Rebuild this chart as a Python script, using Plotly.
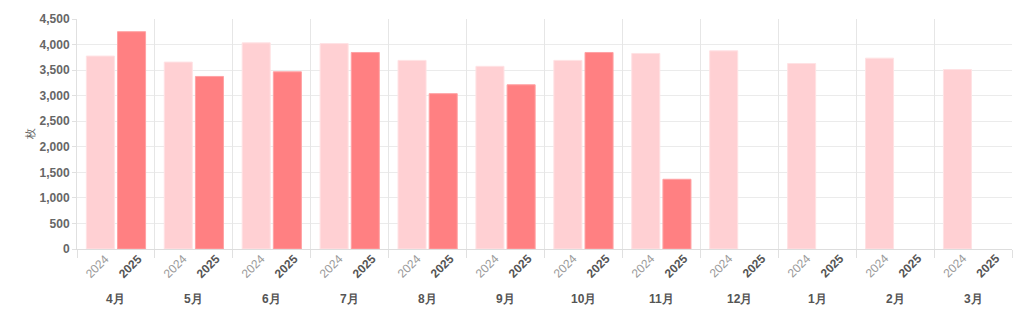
import plotly.graph_objects as go

months = ["4月", "5月", "6月", "7月", "8月", "9月", "10月", "11月", "12月", "1月", "2月", "3月"]
years = ["2024", "2025"]
values_2024 = [3775, 3657, 4033, 4019, 3690, 3574, 3690, 3826, 3877, 3629, 3734, 3512]
values_2025 = [4252, 3376, 3467, 3845, 3039, 3213, 3845, 1364]
y_ticks = [0, 500, 1000, 1500, 2000, 2500, 3000, 3500, 4000, 4500]
y_title = "枚"

FONT = "Liberation Sans, Arial, sans-serif"
n = len(months)

fig = go.Figure()
fig.add_trace(go.Bar(
    x=months, y=values_2024, name=years[0], offsetgroup="a",
    marker=dict(color="#FFD0D3", line=dict(color="#FFE2E4", width=1)),
))
fig.add_trace(go.Bar(
    x=months[:len(values_2025)], y=values_2025, name=years[1], offsetgroup="b",
    marker=dict(color="#FF8082", line=dict(color="#FFA2A4", width=1)),
))
# helper (invisible) so the month-boundary grid axis is drawn
fig.add_trace(go.Scatter(x=[-0.5, n - 0.5], y=[0, 0], xaxis="x2", yaxis="y",
                         mode="markers", marker=dict(opacity=0), hoverinfo="skip",
                         showlegend=False))

annotations = []
for m in months:
    annotations.append(dict(x=m, xref="x", y=-0.151, yref="paper", text=years[0],
                            showarrow=False, textangle=-45, xshift=-18,
                            font=dict(family=FONT, size=12, color="#9a9a9a")))
    annotations.append(dict(x=m, xref="x", y=-0.151, yref="paper", text="<b>" + years[1] + "</b>",
                            showarrow=False, textangle=-45, xshift=15,
                            font=dict(family=FONT, size=12, color="#555555")))
    annotations.append(dict(x=m, xref="x", y=0, yref="paper", text="<b>" + m + "</b>",
                            showarrow=False, yshift=-50, xanchor="center", yanchor="middle",
                            font=dict(family=FONT, size=12, color="#555555")))
annotations.append(dict(x=-0.059, xref="paper", y=0.5, yref="paper", text=y_title,
                        showarrow=False, textangle=-90,
                        font=dict(family=FONT, size=11, color="#666666")))

fig.update_layout(
    width=1024, height=322,
    margin=dict(l=77, r=12, t=17, b=73),
    paper_bgcolor="white", plot_bgcolor="white",
    barmode="group", bargap=0.2, bargroupgap=0.1,
    showlegend=False,
    annotations=annotations,
    xaxis=dict(
        type="category", showticklabels=False, showgrid=False, ticks="",
        showline=True, linecolor="#dddddd", linewidth=1,
    ),
    xaxis2=dict(
        overlaying="x", anchor="y", side="bottom", type="linear",
        range=[-0.5, n - 0.5], tick0=-0.5, dtick=1, showticklabels=False,
        showgrid=True, gridcolor="#e6e6e6", gridwidth=1, zeroline=False,
        ticks="outside", ticklen=8, tickcolor="#e0e0e0", showline=False,
    ),
    yaxis=dict(
        range=[0, 4500], tickvals=y_ticks, tickformat=",",
        showgrid=True, gridcolor="#ebebeb", gridwidth=1,
        zeroline=False, showline=True, linecolor="#e0e0e0",
        ticks="outside", ticklen=4, tickcolor="#e0e0e0",
        tickfont=dict(family=FONT, size=12, color="#666666", weight="bold"),
    ),
)

fig.write_html("out.html")
